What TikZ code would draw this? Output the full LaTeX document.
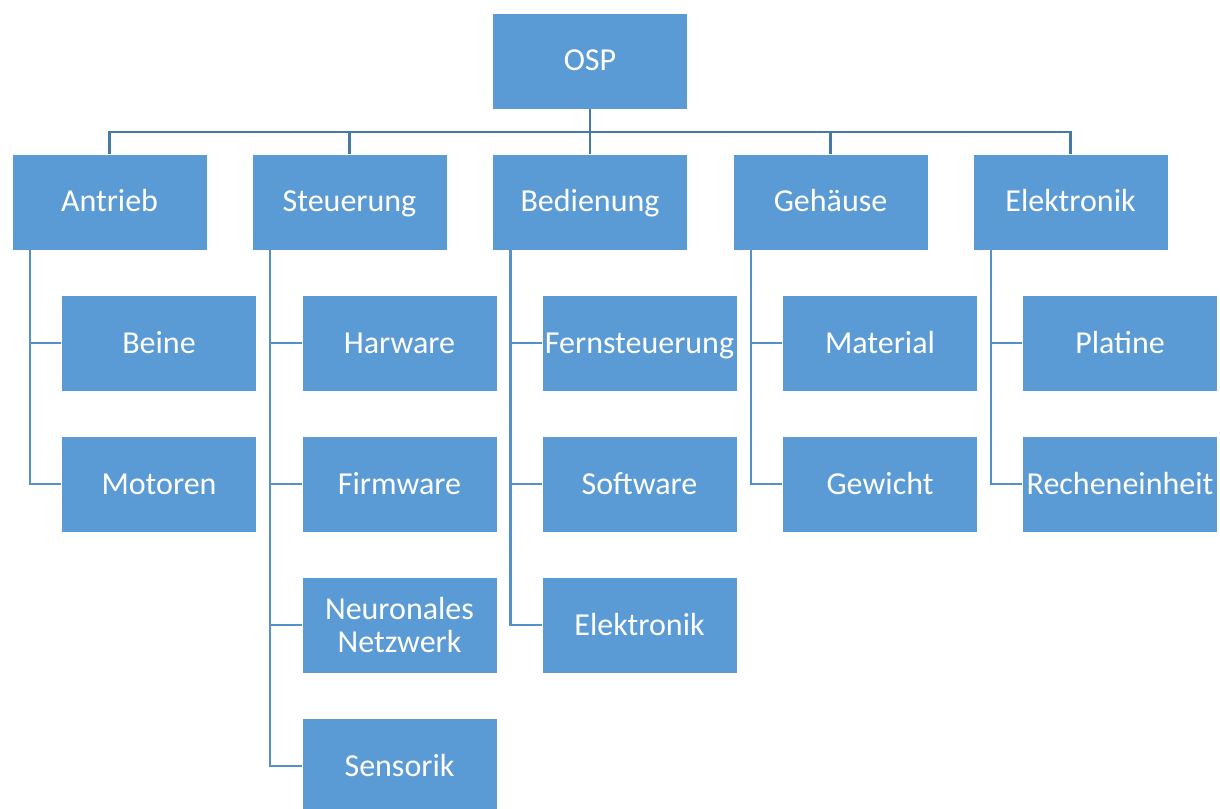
\documentclass[tikz,border=0pt]{standalone}
\usepackage{fontspec}
\setmainfont{Carlito}
\usetikzlibrary{calc}
\definecolor{boxblue}{HTML}{5B9BD5}
\definecolor{topline}{HTML}{4678A8}
\definecolor{spineline}{HTML}{5590C8}
\tikzset{
  bx/.style={rectangle, fill=boxblue, draw=white, line width=0.6pt, minimum width=146.25pt, minimum height=72pt, inner sep=0pt, text=white, font=\fontsize{24}{25}\selectfont, align=center, text height=18.5pt, text depth=3.5pt},
  twoline/.style={text height=, text depth=},
  topconn/.style={draw=topline, line width=1.8pt},
  spine/.style={draw=spineline, line width=1.8pt}
}
\begin{document}
\begin{tikzpicture}[x=0.75pt,y=-0.75pt]
\useasboundingbox[fill=white] (0,0) rectangle (1220,809);
\node[bx] (osp) at (590,61) {OSP};
\node[bx] (a) at (109.5,202) {Antrieb};
\node[bx] (s) at (349.5,202) {Steuerung};
\node[bx] (b) at (590,202) {Bedienung};
\node[bx] (g) at (830.5,202) {Gehäuse};
\node[bx] (e) at (1070.5,202) {Elektronik};
% children
\node[bx] (a1) at (159,343) {Beine};
\node[bx] (a2) at (159,484) {Motoren};
\node[bx] (s1) at (399.5,343) {Harware};
\node[bx] (s2) at (399.5,484) {Firmware};
\node[bx,twoline] (s3) at (399.5,625) {Neuronales\\Netzwerk};
\node[bx] (s4) at (399.5,766) {Sensorik};
\node[bx] (b1) at (639.5,343) {Fernsteuerung};
\node[bx] (b2) at (639.5,484) {Software};
\node[bx] (b3) at (639.5,625) {Elektronik};
\node[bx] (g1) at (880,343) {Material};
\node[bx] (g2) at (880,484) {Gewicht};
\node[bx] (e1) at (1120,343) {Platine};
\node[bx] (e2) at (1120,484) {Recheneinheit};
% top connectors
\foreach \c in {a,s,b,g,e}{
  \draw[topconn] (osp.south) -- ++(0,22.5) -| (\c.north);
}
% spines
\foreach \p/\kids in {a/{a1,a2}, s/{s1,s2,s3,s4}, b/{b1,b2,b3}, g/{g1,g2}, e/{e1,e2}}{
  \foreach \k in \kids {
    \draw[spine] ($(\p.south west)+(18.5,0)$) |- (\k.west);
  }
}
\end{tikzpicture}
\end{document}
